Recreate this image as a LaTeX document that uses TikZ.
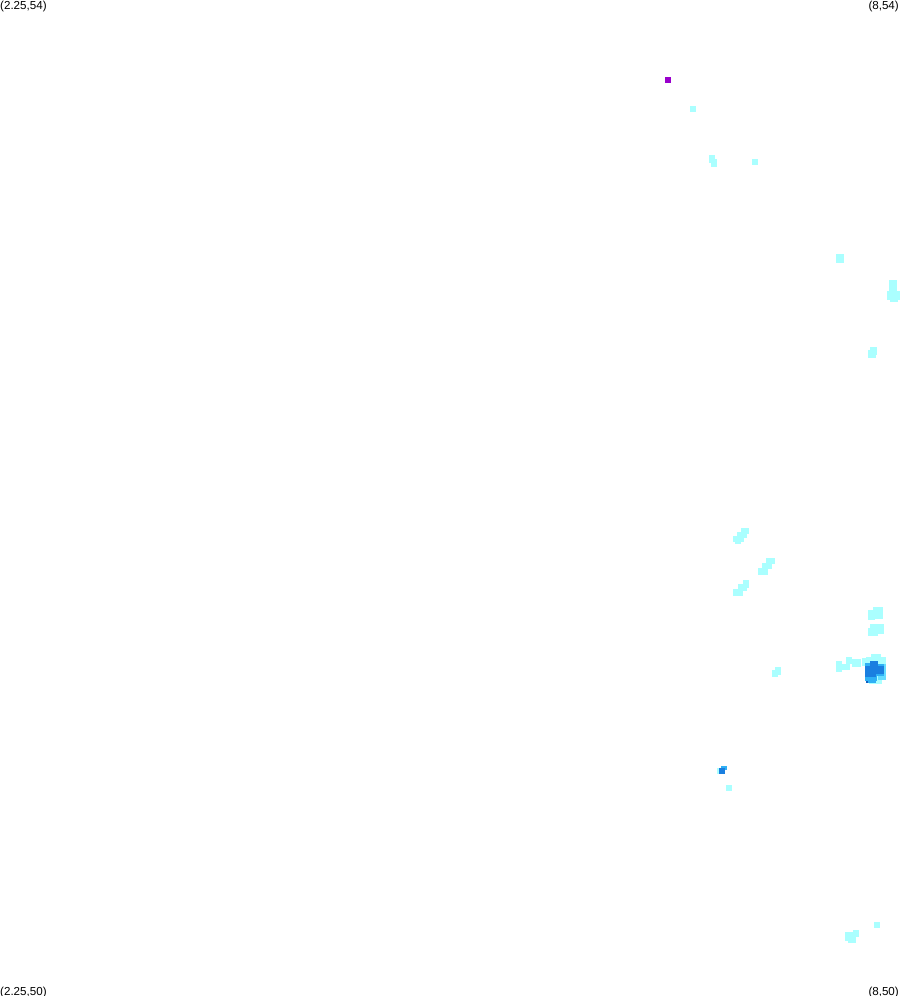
\documentclass[tikz,border=0pt]{standalone}
\usepackage{fontspec}
\setmainfont{Liberation Sans}
\definecolor{lev1}{HTML}{AAFFFF}
\definecolor{lev2}{HTML}{66DDFF}
\definecolor{lev3}{HTML}{2FB0F5}
\definecolor{lev4}{HTML}{1A7FE0}
\definecolor{lev5}{HTML}{0F5FC0}
\definecolor{levtop}{HTML}{9900CC}
\tikzset{
  cell1/.style={fill=lev1,draw=none},
  cell2/.style={fill=lev2,draw=none},
  cell3/.style={fill=lev3,draw=none},
  cell4/.style={fill=lev4,draw=none},
  cell5/.style={fill=lev5,draw=none},
  celltop/.style={fill=levtop,draw=none},
  corner/.style={inner sep=0pt,font=\fontsize{11.6}{12}\selectfont,text=black}
}
\begin{document}
\begin{tikzpicture}[x=1pt,y=-1pt]
\useasboundingbox (0,0) rectangle (900,996);
\node[corner,anchor=north west] (tl) at (0,0.5) {(2.25,54)};
\node[corner,anchor=north east] (tr) at (899,0.5) {(8,54)};
\node[corner,anchor=south west] (bl) at (0,998) {(2.25,50)};
\node[corner,anchor=south east] (br) at (899,998) {(8,50)};
% top region
\fill[celltop] (665,77) rectangle (671,83);
\fill[cell1] (690,106) rectangle (696,112);
\fill[cell1] (709,155) rectangle (715,163);
\fill[cell1] (711,159) rectangle (717,167);
\fill[cell1] (752,159) rectangle (758,165);
\fill[cell1] (836,254) rectangle (844,263);
\fill[cell1] (889,280) rectangle (897,292);
\fill[cell1] (887,291) rectangle (900,300);
\fill[cell1] (890,298) rectangle (898,302);
\fill[cell1] (870,347) rectangle (877,355);
\fill[cell1] (868,350) rectangle (876,358);
% middle stairs
\fill[cell1] (741,528) rectangle (749,534);
\fill[cell1] (737,532) rectangle (747,538);
\fill[cell1] (733,536) rectangle (744,542);
\fill[cell1] (735,541) rectangle (741,544);
\fill[cell1] (766,558) rectangle (775,564);
\fill[cell1] (762,563) rectangle (772,569);
\fill[cell1] (758,568) rectangle (768,575);
\fill[cell1] (743,580) rectangle (749,588);
\fill[cell1] (738,584) rectangle (747,591);
\fill[cell1] (733,589) rectangle (743,596);
% right cluster
\fill[cell1] (873,607) rectangle (883,619);
\fill[cell1] (868,610) rectangle (875,620);
\fill[cell1] (870,624) rectangle (884,634);
\fill[cell1] (868,628) rectangle (878,636);
\fill[cell1] (836,661) rectangle (842,672);
\fill[cell1] (842,664) rectangle (850,670);
\fill[cell1] (846,657) rectangle (852,664);
\fill[cell1] (852,659) rectangle (861,667);
\fill[cell1] (862,658) rectangle (868,666);
\fill[cell1] (871,654) rectangle (881,658);
\fill[cell1] (866,657) rectangle (886,680);
\fill[cell1] (869,680) rectangle (882,684);
\fill[cell2] (878,664) rectangle (886,680);
\fill[cell3] (865,663) rectangle (877,681);
\fill[cell3] (868,681) rectangle (876,683);
\fill[cell3] (877,664) rectangle (884,676);
\fill[cell4] (870,661) rectangle (878,666);
\fill[cell4] (865,666) rectangle (884,674);
\fill[cell4] (865,674) rectangle (876,677);
\fill[cell5] (866,681) rectangle (868,683);
% lower
\fill[cell1] (772,670) rectangle (778,677);
\fill[cell1] (775,667) rectangle (781,675);
\fill[cell1] (717,768) rectangle (725,774);
\fill[cell3] (721,766) rectangle (727,770);
\fill[cell4] (719,768) rectangle (725,774);
\fill[cell1] (726,785) rectangle (732,791);
\fill[cell1] (874,922) rectangle (880,928);
\fill[cell1] (853,930) rectangle (859,937);
\fill[cell1] (845,932) rectangle (856,941);
\fill[cell1] (848,938) rectangle (856,943);
\end{tikzpicture}
\end{document}
